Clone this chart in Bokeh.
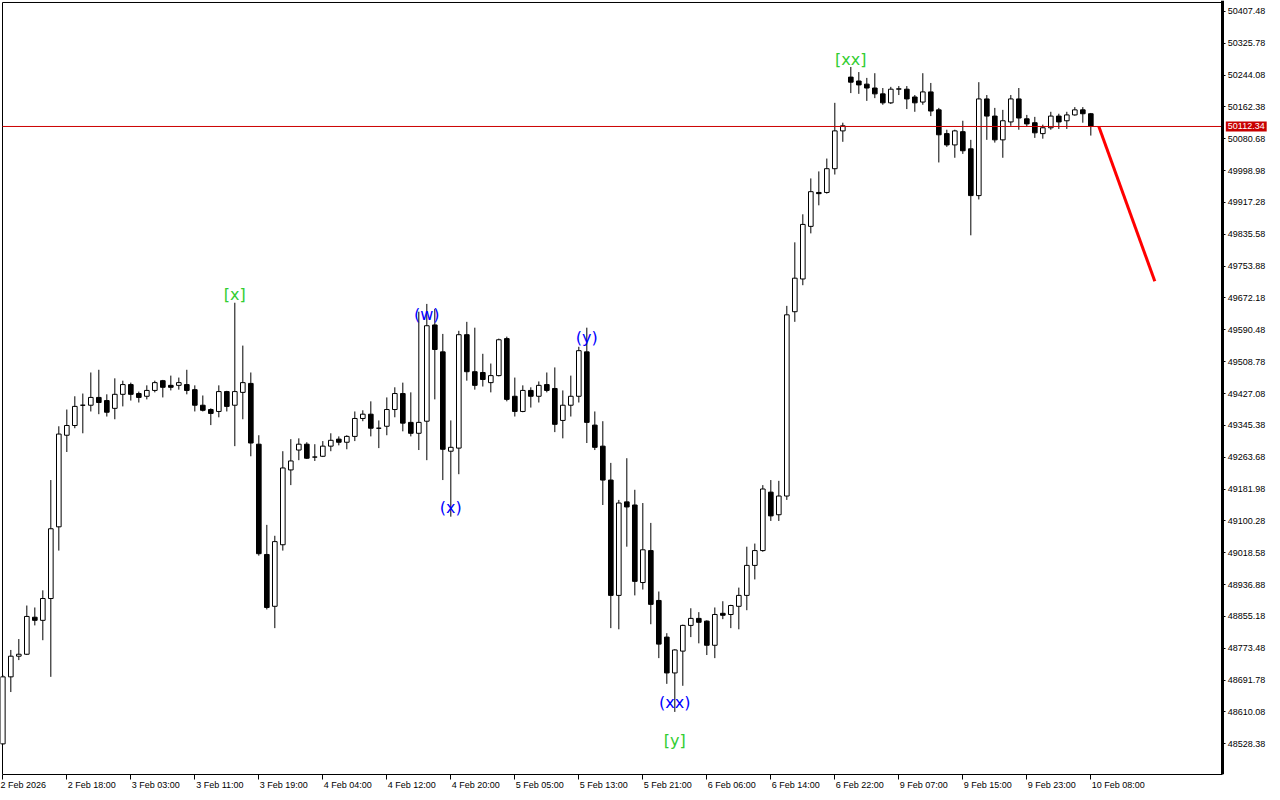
from bokeh.plotting import figure
from bokeh.models import Range1d, FixedTicker, Label, NumeralTickFormatter, ColumnDataSource, LinearAxis
from bokeh.embed import file_html
from bokeh.resources import INLINE
from bokeh.core.properties import value

# ---- data (hourly bars) ----
opens = [
    48528, 48700, 48753, 48758, 48853, 48845, 48901, 49085, 49320, 49345,
    49397, 49397, 49417, 49409, 49389, 49425, 49450, 49427, 49420, 49435,
    49460, 49448, 49448, 49450, 49437, 49397, 49386, 49381, 49432, 49397,
    49430, 49453, 49297, 49014, 48881, 49039, 49231, 49282, 49297, 49264,
    49266, 49292, 49310, 49302, 49317, 49363, 49374, 49338, 49343, 49386,
    49427, 49353, 49325, 49356, 49603, 49534, 49279, 49287, 49578, 49483,
    49481, 49455, 49473, 49568, 49420, 49381, 49435, 49420, 49450, 49440,
    49358, 49397, 49420, 49534, 49346, 49292, 49205, 48909, 49149, 49141,
    48942, 49024, 48896, 48802, 48710, 48766, 48832, 48850, 48843, 48781,
    48863, 48860, 48881, 48909, 48986, 49024, 49174, 49116, 49164, 49637,
    49721, 49856, 49943, 49943, 50004, 50101, 50239, 50229, 50221, 50211,
    50196, 50173, 50208, 50208, 50188, 50175, 50201, 50155, 50094, 50065,
    50099, 50055, 49935, 50183, 50139, 50078, 50124, 50183, 50132, 50122,
    50094, 50109, 50139, 50127, 50142, 50155, 50145]
highs = [
    48705, 48769, 48797, 48883, 48878, 48922, 49205, 49343, 49386, 49420,
    49427, 49481, 49488, 49425, 49466, 49460, 49455, 49432, 49448, 49460,
    49462, 49473, 49468, 49488, 49448, 49422, 49389, 49448, 49434, 49660,
    49550, 49481, 49320, 49090, 49062, 49279, 49310, 49312, 49302, 49297,
    49305, 49325, 49317, 49320, 49381, 49384, 49407, 49358, 49417, 49443,
    49455, 49430, 49637, 49657, 49644, 49580, 49358, 49588, 49611, 49596,
    49529, 49504, 49568, 49573, 49468, 49448, 49443, 49458, 49481, 49494,
    49435, 49473, 49547, 49596, 49381, 49356, 49249, 49154, 49261, 49180,
    49146, 49095, 48919, 48812, 48771, 48834, 48876, 48866, 48845, 48878,
    48894, 48885, 48929, 49034, 49042, 49192, 49205, 49203, 49652, 49815,
    49887, 49979, 49997, 50030, 50173, 50122, 50265, 50252, 50237, 50249,
    50211, 50214, 50216, 50216, 50193, 50249, 50224, 50160, 50104, 50104,
    50127, 50078, 50226, 50193, 50160, 50155, 50193, 50211, 50142, 50137,
    50117, 50150, 50145, 50150, 50162, 50162, 50147]
lows = [
    48526, 48661, 48743, 48756, 48832, 48794, 48700, 49024, 49277, 49338,
    49325, 49381, 49374, 49368, 49361, 49394, 49409, 49404, 49412, 49430,
    49417, 49435, 49437, 49425, 49381, 49381, 49346, 49366, 49381, 49292,
    49361, 49266, 49011, 48873, 48825, 49024, 49192, 49256, 49259, 49254,
    49264, 49279, 49294, 49284, 49305, 49356, 49317, 49287, 49320, 49366,
    49330, 49317, 49282, 49256, 49412, 49205, 49111, 49220, 49460, 49437,
    49445, 49430, 49471, 49407, 49368, 49379, 49391, 49404, 49430, 49328,
    49312, 49368, 49404, 49300, 49282, 49141, 48825, 48822, 49034, 48909,
    48924, 48835, 48748, 48682, 48610, 48677, 48802, 48786, 48756, 48748,
    48848, 48825, 48822, 48871, 48950, 49021, 49100, 49100, 49154, 49611,
    49705, 49838, 49910, 49940, 49989, 50073, 50198, 50196, 50178, 50185,
    50168, 50170, 50193, 50157, 50150, 50168, 50139, 50020, 50060, 50032,
    50042, 49833, 49925, 50078, 50071, 50032, 50114, 50104, 50111, 50083,
    50081, 50104, 50106, 50106, 50140, 50122, 50089]
closes = [
    48700, 48753, 48758, 48855, 48845, 48901, 49080, 49323, 49345, 49394,
    49397, 49417, 49404, 49379, 49425, 49450, 49425, 49417, 49435, 49455,
    49443, 49443, 49455, 49435, 49397, 49384, 49376, 49432, 49394, 49432,
    49455, 49300, 49016, 48878, 49047, 49236, 49254, 49297, 49261, 49264,
    49292, 49307, 49302, 49317, 49363, 49374, 49338, 49338, 49386, 49427,
    49351, 49325, 49353, 49601, 49540, 49284, 49289, 49578, 49483, 49448,
    49463, 49473, 49565, 49412, 49381, 49435, 49420, 49448, 49435, 49348,
    49397, 49420, 49537, 49353, 49289, 49205, 48909, 49146, 49136, 48945,
    49026, 48886, 48784, 48710, 48769, 48832, 48850, 48840, 48781, 48860,
    48858, 48883, 48909, 48986, 49024, 49182, 49113, 49164, 49629, 49723,
    49861, 49945, 49940, 50004, 50101, 50114, 50226, 50219, 50211, 50196,
    50173, 50208, 50209, 50183, 50173, 50201, 50152, 50091, 50065, 50101,
    50050, 49935, 50183, 50139, 50078, 50127, 50183, 50134, 50119, 50096,
    50109, 50139, 50124, 50142, 50155, 50145, 50112.34]

current_price = 50112.34

x_tick_bars = [0, 8, 16, 24, 32, 40, 48, 56, 64, 72, 80, 88, 96, 104, 112, 120, 128, 136]
x_tick_labels = ["2 Feb 2026", "2 Feb 18:00", "3 Feb 03:00", "3 Feb 11:00", "3 Feb 19:00",
                 "4 Feb 04:00", "4 Feb 12:00", "4 Feb 20:00", "5 Feb 05:00", "5 Feb 13:00",
                 "5 Feb 21:00", "6 Feb 06:00", "6 Feb 14:00", "6 Feb 22:00", "9 Feb 07:00",
                 "9 Feb 15:00", "9 Feb 23:00", "10 Feb 08:00"]
y_ticks = [48528.38, 48610.08, 48691.78, 48773.48, 48855.18, 48936.88, 49018.58, 49100.28,
           49181.98, 49263.68, 49345.38, 49427.08, 49508.78, 49590.48, 49672.18, 49753.88,
           49835.58, 49917.28, 49998.98, 50080.68, 50162.38, 50244.08, 50325.78, 50407.48]

wave_text = ["[x]", "(w)", "(x)", "(y)", "(xx)", "[y]", "[xx]"]
wave_bar = [29, 53, 56, 73, 84, 84, 106]
wave_price = [49680, 49631, 49134, 49570, 48633, 48536, 50285]
wave_color = ["#32CD32", "#0000FF", "#0000FF", "#0000FF", "#0000FF", "#32CD32", "#32CD32"]

proj_bar = [137, 144]
proj_price = [50112.34, 49715]

# ---- view geometry (bar units / price units) ----
W, H = 1272, 792
X_START = -0.29
X_END = X_START + W / 8.0            # frame spans the whole width; price scale sits inside
CHART_LEFT, CHART_RIGHT = -0.04, 152.5
Y_END = 50435.6
Y_START = 48449.4
CHART_TOP = 50430.5

p = figure(width=W, height=H, output_backend="svg", toolbar_location=None,
           x_range=Range1d(X_START, X_END), y_range=Range1d(Y_START, Y_END),
           y_axis_location=None, min_border_left=0, min_border_top=0,
           min_border_right=0, min_border_bottom=14)
p.background_fill_color = "white"
p.border_fill_color = "white"
p.outline_line_color = None
p.grid.visible = False

# chart border (top and left)
p.segment(x0=[CHART_LEFT, CHART_LEFT], y0=[CHART_TOP, Y_START],
          x1=[CHART_RIGHT, CHART_LEFT], y1=[CHART_TOP, CHART_TOP],
          line_color="black", line_width=1)

idx = list(range(len(opens)))
up = [c >= o for o, c in zip(opens, closes)]
src = ColumnDataSource(dict(
    x=idx, o=opens, h=highs, l=lows, c=closes,
    top=[max(o, c) for o, c in zip(opens, closes)],
    bot=[min(o, c) for o, c in zip(opens, closes)],
    fill=["white" if u else "black" for u in up]))

p.segment(x0="x", y0="h", x1="x", y1="l", source=src, line_color="black", line_width=1)
p.vbar(x="x", top="top", bottom="bot", width=0.58, source=src,
       fill_color="fill", line_color="black", line_width=1)

# current price line
p.segment(x0=[CHART_LEFT], y0=[current_price], x1=[CHART_RIGHT], y1=[current_price],
          line_color="#CC0000", line_width=1)

p.line(proj_bar, proj_price, line_color="#FF0000", line_width=3)

p.text(x=wave_bar, y=wave_price, text=wave_text, text_color=wave_color,
       text_font=value("DejaVu Sans"), text_font_size="16px",
       text_align="center", text_baseline="middle")

# right price axis drawn at the chart's right edge
ya = LinearAxis(fixed_location=CHART_RIGHT)
ya.ticker = FixedTicker(ticks=y_ticks)
ya.formatter = NumeralTickFormatter(format="0.00")
ya.major_label_text_font = "Liberation Sans"
ya.major_label_text_font_size = "9px"
ya.major_label_text_color = "black"
ya.axis_line_width = 3
ya.axis_line_color = "black"
ya.major_tick_out = 3
ya.major_tick_in = 0
ya.minor_tick_out = 0
ya.minor_tick_in = 0
ya.major_label_standoff = 2
p.add_layout(ya, "right")

# bottom time axis, labels left-aligned on their tick
em = {" ": 0.278, ":": 0.278, "F": 0.611, "e": 0.556, "b": 0.556}
def left_pad(t, i):
    if i == 0:
        return t      # first label is kept inside the canvas by the axis itself
    w = sum(em.get(ch, 0.556) for ch in t)
    return "\u00a0" * int(round(w / 0.278) + 1) + t

xa = p.xaxis[0]
xa.bounds = (CHART_LEFT, CHART_RIGHT)
xa.ticker = FixedTicker(ticks=x_tick_bars)
xa.major_label_overrides = {b: left_pad(t, i) for i, (b, t) in enumerate(zip(x_tick_bars, x_tick_labels))}
xa.major_label_text_font = "Liberation Sans"
xa.major_label_text_font_size = "9px"
xa.major_label_text_color = "black"
xa.axis_line_width = 1
xa.axis_line_color = "black"
xa.major_tick_out = 5
xa.major_tick_in = 0
xa.minor_tick_out = 0
xa.minor_tick_in = 0
xa.major_label_standoff = 0

p.add_layout(Label(x=CHART_RIGHT, y=current_price, x_offset=3, text=f"{current_price:.2f}",
                   text_color="white", text_font="Liberation Sans", text_font_size="9px",
                   text_align="left", text_baseline="middle",
                   background_fill_color="#C80000", padding=2))

open("out.html", "w").write(file_html(p, INLINE))
